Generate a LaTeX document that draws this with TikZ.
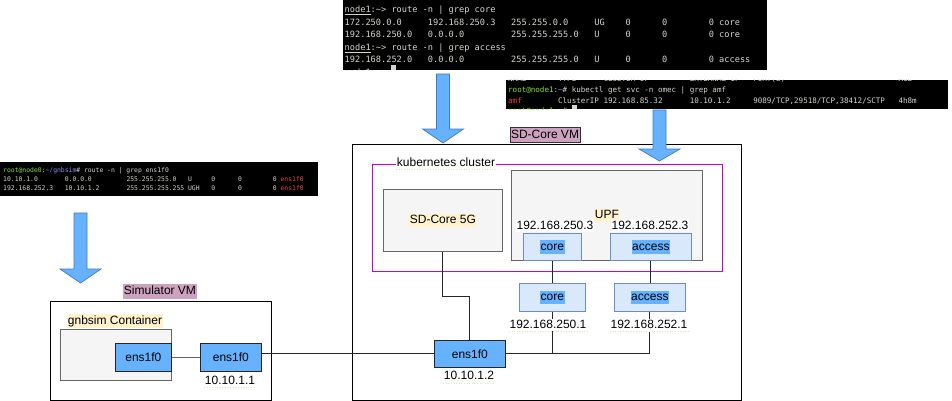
\documentclass[tikz,border=0pt]{standalone}
\usepackage{fontspec}
\setmainfont{Liberation Sans}
\newfontfamily\termfont{DejaVu Sans Mono}
\usetikzlibrary{calc}
\definecolor{mauve}{HTML}{CDA2BE}
\definecolor{hlyel}{HTML}{FFF2CC}
\definecolor{boxgray}{HTML}{F5F5F5}
\definecolor{boxstroke}{HTML}{666666}
\definecolor{ethblue}{HTML}{66B2FF}
\definecolor{lblue}{HTML}{DAE8FC}
\definecolor{lbluestroke}{HTML}{6C8EBF}
\definecolor{kcol}{HTML}{CC00CC}
\definecolor{arrfill}{HTML}{66B2FF}
\definecolor{arrdraw}{HTML}{3E7BBF}
\definecolor{tgray}{HTML}{D3D7CF}
\definecolor{tgreen}{HTML}{8AE234}
\definecolor{tblue}{HTML}{8C8CFF}
\definecolor{tred}{HTML}{EF4040}
\definecolor{ulcol}{HTML}{F0DFA8}
\newcommand\tc[2]{\makebox[#1\fontcharwd\font`0][l]{#2}}
\newcommand\ttA{\termfont\fontsize{8.64}{10}\selectfont}
\newcommand\ttB{\termfont\fontsize{7.54}{9}\selectfont}
\newcommand\ttC{\termfont\fontsize{6.4}{8}\selectfont}
\newcommand\hstrut{\rule[-2.6pt]{0pt}{12.2pt}}
\newcommand\hl[2]{{\setlength{\fboxsep}{0.5pt}\colorbox{#1}{\hstrut#2}}}
\newcommand\blockarrow[4]{%
  \filldraw[barrow] (#1-6.5,#2) -- (#1+6.5,#2) -- (#1+6.5,#3-#4) -- (#1+20.5,#3-#4)
    -- (#1,#3) -- (#1-20.5,#3-#4) -- (#1-6.5,#3-#4) -- cycle;}
\begin{document}
\begin{tikzpicture}[x=1pt,y=-1pt,
  every node/.style={font=\fontsize{12}{14}\selectfont},
  term/.style={fill=black, draw=none, inner sep=0, anchor=north west},
  tline/.style={anchor=base west, inner sep=0, text=tgray},
  rbox/.style={inner sep=0, anchor=north west, line width=0.8pt},
  vmbox/.style={rbox, draw=black, line width=0.9pt},
  graybox/.style={rbox, fill=boxgray, draw=boxstroke},
  ifbox/.style={rbox, fill=lblue, draw=lbluestroke},
  ethbox/.style={rbox, fill=ethblue, draw=black!85},
  mlab/.style={fill=mauve, inner xsep=1pt, inner ysep=1pt, text height=10pt, text depth=3pt},
  ylab/.style={fill=hlyel, inner xsep=0.5pt, inner ysep=0.5pt, text height=9.5pt, text depth=2.8pt},
  wlab/.style={fill=white, inner xsep=0.5pt, inner ysep=0.5pt, text height=9pt, text depth=2.5pt},
  conn/.style={draw=black!85, line width=0.9pt},
  barrow/.style={fill=arrfill, draw=arrdraw, line width=0.7pt, line join=miter}
]
\useasboundingbox (0,0) rectangle (952,401);

% ---------- terminal screenshots ----------
\node[term, minimum width=424pt, minimum height=70pt] (ttop) at (343,0) {};
\node[term, minimum width=442pt, minimum height=29pt] (tright) at (506,80) {};
\node[term, minimum width=318pt, minimum height=34pt] (tleft) at (0,162) {};

\begin{scope}
\clip (ttop.north west) rectangle (ttop.south east);
\node[tline,font=\ttA] (ta1) at (344.5,12.5) {\underline{node1}:\textasciitilde> route -n | grep core};
\node[tline,font=\ttA] (ta2) at (344.5,25.1) {\tc{16}{172.250.0.0}\tc{16}{192.168.250.3}\tc{16}{255.255.0.0}\tc{6}{UG}\tc{7}{0}\tc{9}{0}0 core};
\node[tline,font=\ttA] (ta3) at (344.5,37.7) {\tc{16}{192.168.250.0}\tc{16}{0.0.0.0}\tc{16}{255.255.255.0}\tc{6}{U}\tc{7}{0}\tc{9}{0}0 core};
\node[tline,font=\ttA] (ta4) at (344.5,50.3) {\underline{node1}:\textasciitilde> route -n | grep access};
\node[tline,font=\ttA] (ta5) at (344.5,62.9) {\tc{16}{192.168.252.0}\tc{16}{0.0.0.0}\tc{16}{255.255.255.0}\tc{6}{U}\tc{7}{0}\tc{9}{0}0 access};
\node[tline,font=\ttA] (ta6) at (344.5,75.5) {\underline{node1}:\textasciitilde>};
\fill[tgray] (391,65) rectangle (396,70);
\end{scope}

\begin{scope}
\clip (tright.north west) rectangle (tright.south east);
\node[tline,font=\ttB] (tb0) at (508,81.5) {\tc{11}{NAME}\tc{10}{TYPE}\tc{19}{CLUSTER-IP}\tc{14}{EXTERNAL-IP}\tc{32}{PORT(S)}AGE};
\node[tline,font=\ttB] (tb1) at (508,92.3) {\textcolor{tgreen}{root@node1}:\textcolor{tblue}{\textasciitilde}\# kubectl get svc -n omec | grep amf};
\node[tline,font=\ttB] (tb2) at (508,103.2) {\tc{11}{\textcolor{tred}{amf}}\tc{10}{ClusterIP}\tc{19}{192.168.85.32}\tc{14}{10.10.1.2}\tc{32}{9089/TCP,29518/TCP,38412/SCTP}4h8m};
\node[tline,font=\ttB] (tb3) at (508,113.6) {\textcolor{tgreen}{root@node1}:\textcolor{tblue}{\textasciitilde}\#};
\fill[tgray] (572,105) rectangle (577,109);
\end{scope}

\begin{scope}
\clip (tleft.north west) rectangle (tleft.south east);
\node[tline,font=\ttC] (tc1) at (3,172.3) {\textcolor{tgreen}{root@node0}:\textcolor{tblue}{\textasciitilde/gnbsim}\# route -n | grep ens1f0};
\node[tline,font=\ttC] (tc2) at (3,181.8) {\tc{16}{10.10.1.0}\tc{16}{0.0.0.0}\tc{16}{255.255.255.0}\tc{6}{U}\tc{7}{0}\tc{9}{0}0 \textcolor{tred}{ens1f0}};
\node[tline,font=\ttC] (tc3) at (3,190.6) {\tc{16}{192.168.252.3}\tc{16}{10.10.1.2}\tc{16}{255.255.255.255}\tc{6}{UGH}\tc{7}{0}\tc{9}{0}0 \textcolor{tred}{ens1f0}};
\end{scope}

% ---------- boxes ----------
\node[vmbox, minimum width=389pt, minimum height=256pt] (sdvm) at (352,144) {};
\node[vmbox, minimum width=221pt, minimum height=99pt] (simvm) at (50,301) {};
\node[rbox, draw=kcol, line width=1.5pt, minimum width=350pt, minimum height=107pt] (k8s) at (371.5,163.5) {};
\node[graybox, minimum width=119pt, minimum height=62pt] (sd5g) at (383,189) {\hl{hlyel}{SD-Core 5G}};
\node[graybox, minimum width=191pt, minimum height=90pt] (upf) at (511,170) {\hl{hlyel}{UPF}};
\node[ifbox, minimum width=58pt, minimum height=27pt] (ucore) at (523,233) {\hl{ethblue}{core}};
\node[ifbox, minimum width=81pt, minimum height=27pt] (uacc) at (610,233) {\hl{ethblue}{access}};
\node[ifbox, minimum width=66pt, minimum height=28pt] (lcore) at (519,283) {\hl{ethblue}{core}};
\node[ifbox, minimum width=71pt, minimum height=28pt] (lacc) at (614,283) {\hl{ethblue}{access}};
\node[ethbox, minimum width=71pt, minimum height=27pt] (sdeth) at (434,340) {ens1f0};
\node[graybox, minimum width=111pt, minimum height=51pt] (gbox) at (60,329) {};
\node[ethbox, minimum width=56pt, minimum height=28pt] (gin) at (115,343) {ens1f0};
\node[ethbox, minimum width=61pt, minimum height=28pt] (vmeth) at (200,343) {ens1f0};

% ---------- connectors ----------
\coordinate (k1) at (0,296);
\draw[conn, draw=boxstroke] (gin.east) -- (vmeth.west);
\draw[conn] (sdeth.west) -- (sdeth.west -| vmeth.east);
\draw[conn] (sd5g.south) |- (sdeth.north |- k1) -- (sdeth.north);
\draw[conn] (ucore.south) -- (ucore.south |- lcore.north);
\draw[conn] (uacc.south) -- (uacc.south |- lacc.north);
\draw[conn] (lcore.south) |- (sdeth.east);
\draw[conn] (lacc.south) |- (sdeth.east);

% ---------- labels ----------
\node[mlab, draw=black!80, line width=0.5pt] (lsdvm) at (545,134.5) {SD-Core VM};
\node[mlab] (lsimvm) at (160,291) {Simulator VM};
\node[ylab] (lgn) at (115,321) {gnbsim Container};
\node[wlab] (lk8s) at (446,163) {kubernetes cluster};
\node[wlab] (ip3a) at (555,226) {192.168.250.3};
\node[wlab] (ip3b) at (650,226) {192.168.252.3};
\node[wlab] (ip1a) at (548,325) {192.168.250.1};
\node[wlab] (ip1b) at (649,325) {192.168.252.1};
\node[wlab] (ipsd) at (469,376.5) {10.10.1.2};
\node[wlab] (ipsim) at (230,381) {10.10.1.1};
\foreach \n in {lk8s,ip1a,ip1b,ipsd,ipsim}
  \draw[ulcol, line width=0.6pt, dotted] (\n.south west) -- (\n.south east);

% ---------- block arrows ----------
\blockarrow{443}{74}{143}{14}
\blockarrow{659.5}{110}{161}{12}
\blockarrow{80.5}{213}{283}{14}
\end{tikzpicture}
\end{document}
